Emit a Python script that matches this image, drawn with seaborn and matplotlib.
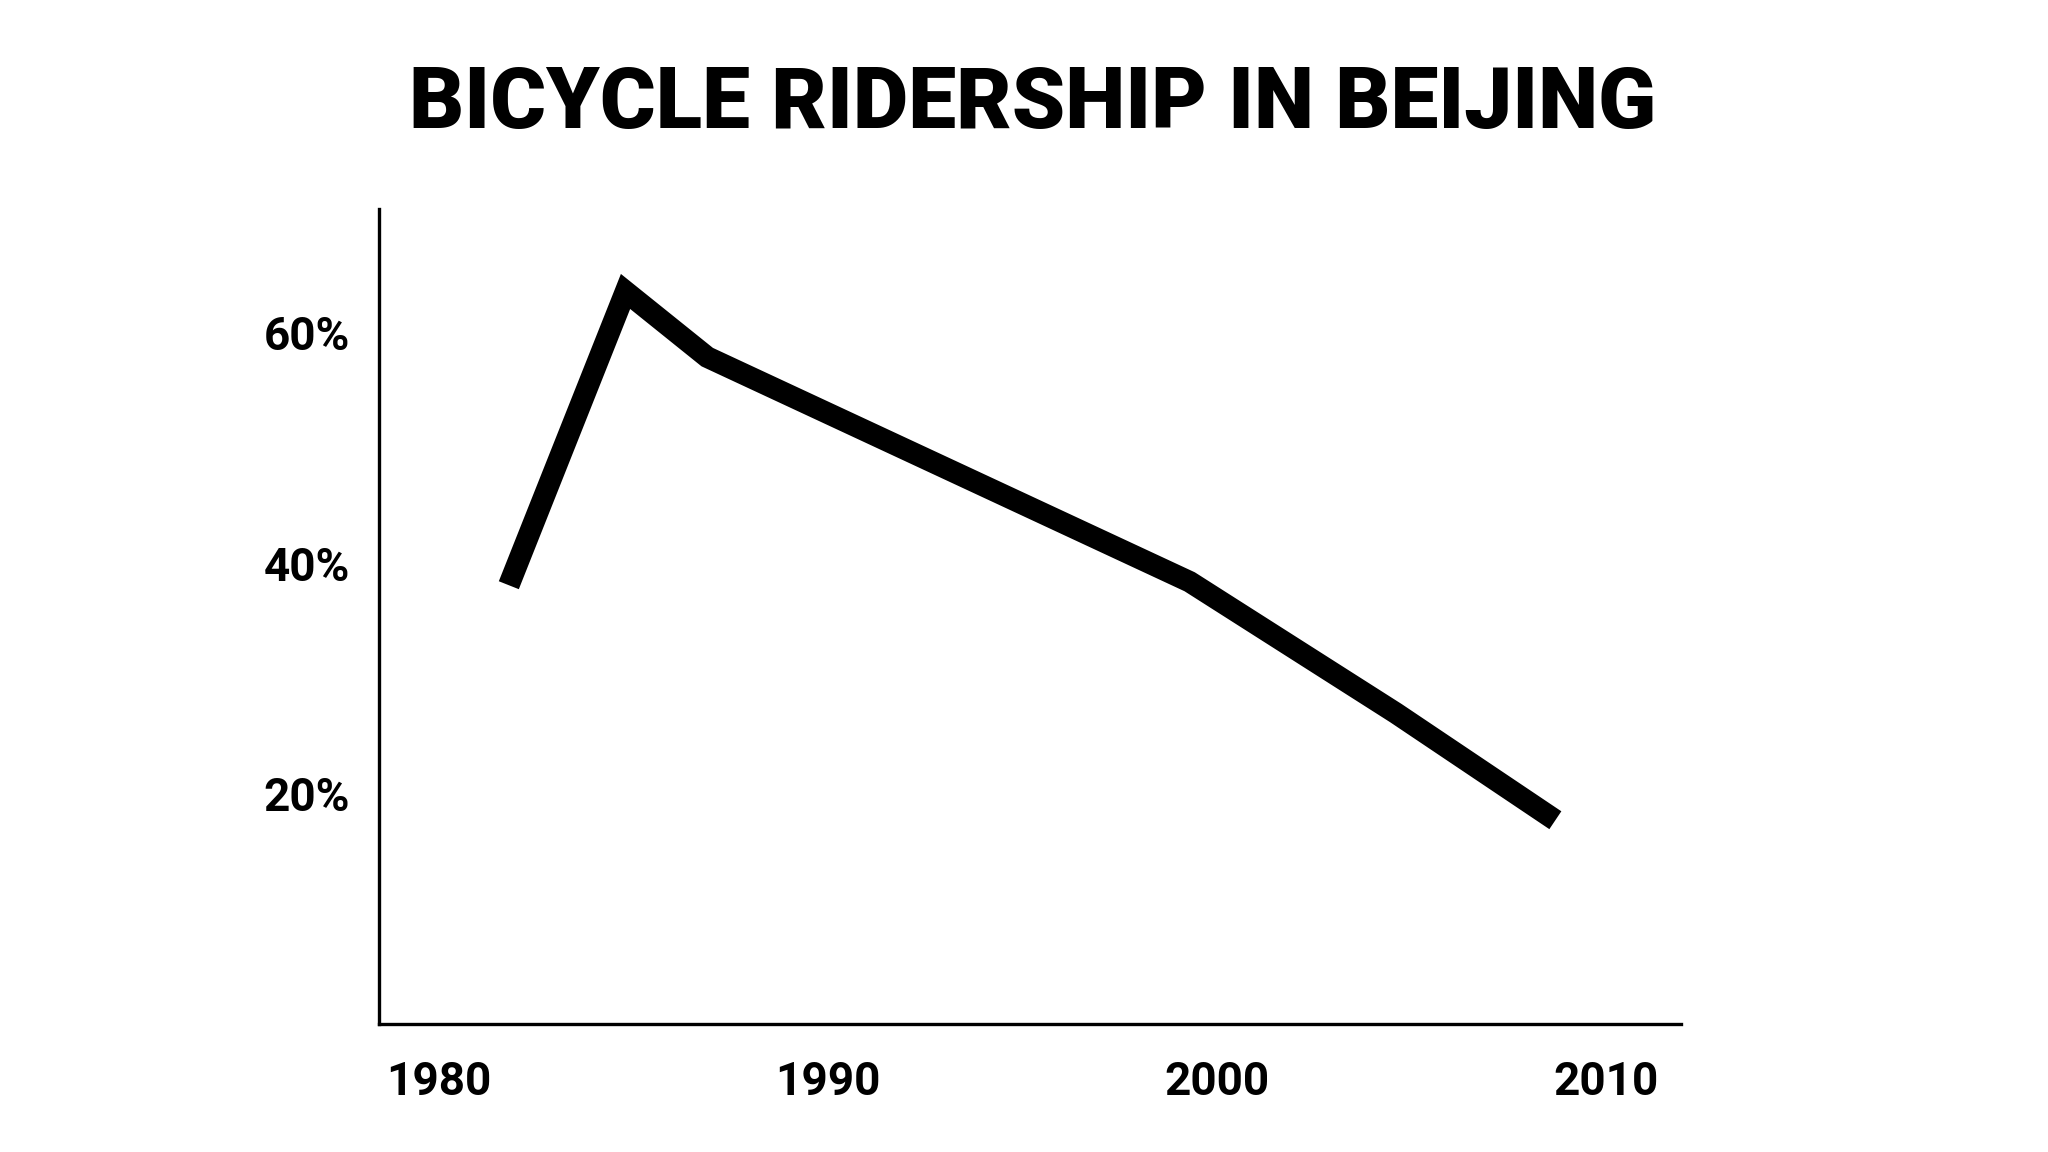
import matplotlib
matplotlib.use("Agg")
import matplotlib.pyplot as plt
from matplotlib import font_manager
import seaborn as sns
import pandas as pd

# Data
years = [1981.8, 1984.8, 1986.9, 1999.3, 2004.6, 2008.7]
share = [38.1, 63.6, 57.9, 38.4, 27.0, 17.7]
x_ticks = [1980, 1990, 2000, 2010]
x_tick_labels = ["1980", "1990", "2000", "2010"]
y_ticks = [20, 40, 60]
y_tick_labels = ["20%", "40%", "60%"]
title = "BICYCLE RIDERSHIP IN BEIJING"

df = pd.DataFrame({"year": years, "share": share})

sns.set_theme(style="white")
names = {f.name for f in font_manager.fontManager.ttflist}
tick_family = ["Liberation Sans Narrow", "DejaVu Sans"] if "Liberation Sans Narrow" in names else ["Roboto", "DejaVu Sans"]
tick_size = 37 if "Liberation Sans Narrow" in names else 33
plt.rcParams["font.family"] = ["Roboto", "DejaVu Sans"]

fig = plt.figure(figsize=(20.48, 11.52), dpi=100)
fig.patch.set_facecolor("white")
ax = fig.add_axes([0.185, 0.111, 0.636, 0.708])

sns.lineplot(data=df, x="year", y="share", ax=ax, color="black", linewidth=15.5,
             solid_joinstyle="miter", solid_capstyle="butt", sort=False)

ax.set_xlim(1978.46, 2011.94)
ax.set_ylim(0, 70.8)
ax.set_xticks(x_ticks)
ax.set_xticklabels(x_tick_labels, fontfamily=tick_family, fontweight="bold", fontsize=tick_size)
ax.set_yticks(y_ticks)
ax.set_yticklabels(y_tick_labels, fontfamily=tick_family, fontweight="bold", fontsize=tick_size)
ax.tick_params(axis="x", length=0, pad=26, colors="black")
ax.tick_params(axis="y", length=0, pad=21, colors="black")
ax.set_xlabel("")
ax.set_ylabel("")
for side in ["top", "right"]:
    ax.spines[side].set_visible(False)
for side in ["left", "bottom"]:
    ax.spines[side].set_color("black")
    ax.spines[side].set_linewidth(2.4)
ax.grid(False)

t = fig.text(0.504, 0.909, title, ha="center", va="center", fontsize=64,
             fontweight=900, fontfamily=["Roboto", "DejaVu Sans"], color="black")
fig.canvas.draw()
w = t.get_window_extent().width
t.set_fontsize(64 * 1249 / w)

fig.savefig("out.png", dpi=100, facecolor="white")
